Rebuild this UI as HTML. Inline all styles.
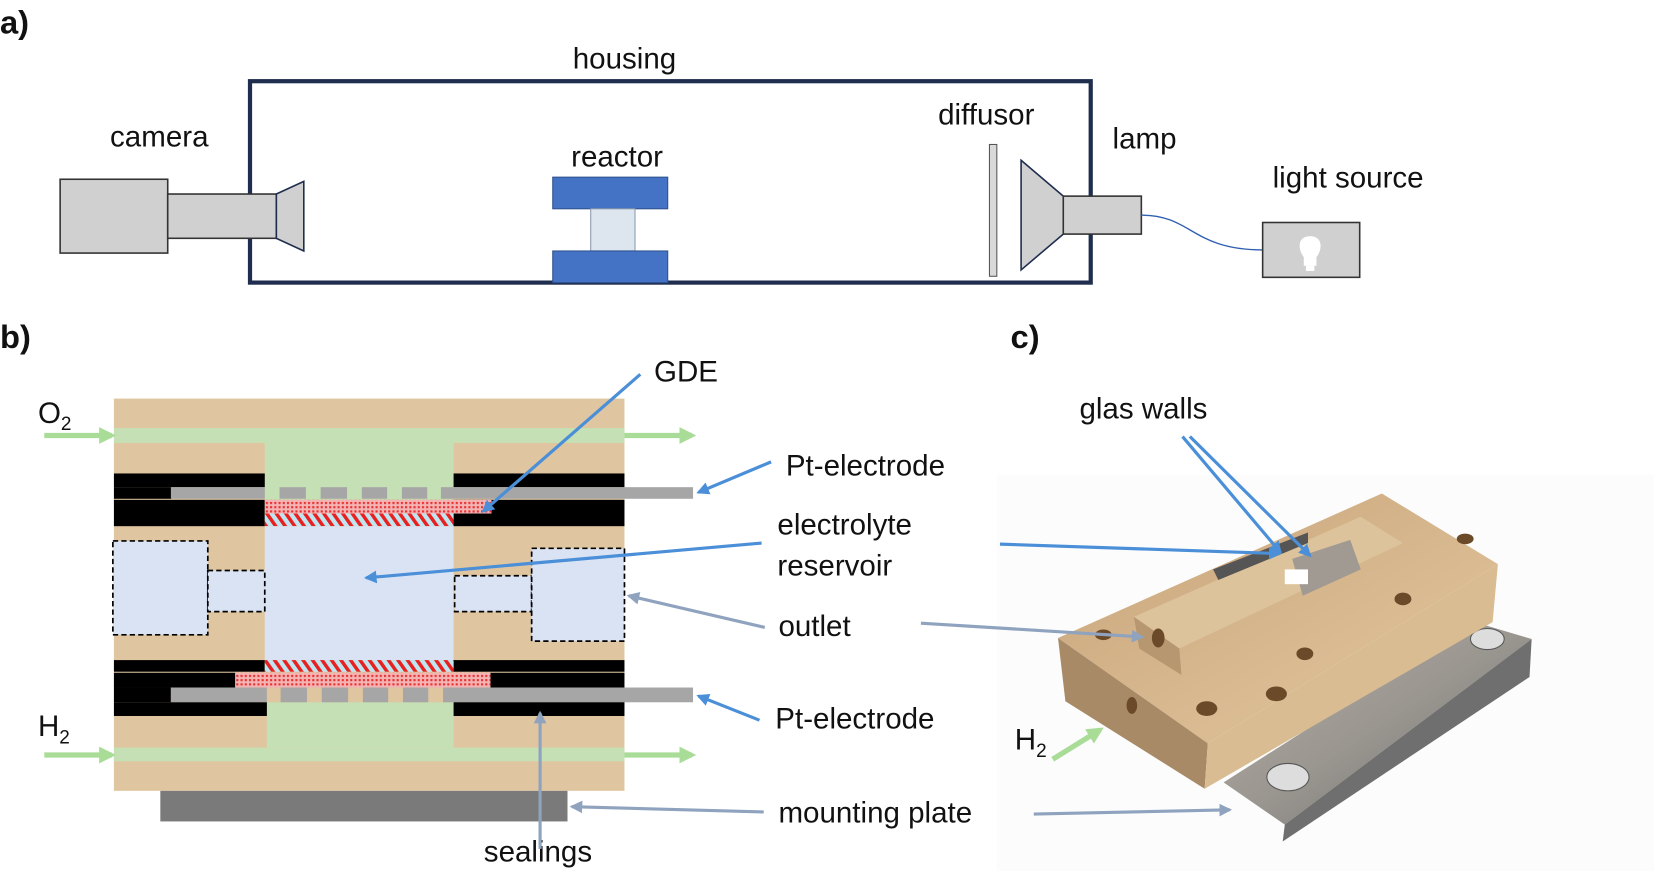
<!DOCTYPE html>
<html><head><meta charset="utf-8"><style>
html,body{margin:0;padding:0;background:#fff}
svg{display:block}
text{font-family:"Liberation Sans",sans-serif;fill:#111;font-size:28px}
.b{font-weight:bold;font-size:31px}
</style></head><body>
<svg width="1654" height="871" viewBox="0 0 1568 826" preserveAspectRatio="none" xmlns="http://www.w3.org/2000/svg">
<defs>
<marker id="ag" markerWidth="14" markerHeight="14" refX="10" refY="6" orient="auto" markerUnits="userSpaceOnUse"><path d="M0,0 L12,6 L0,12 Z" fill="#8fa3bf"/></marker>
<marker id="ag2" markerWidth="16" markerHeight="16" refX="12" refY="8" orient="auto" markerUnits="userSpaceOnUse"><path d="M0,0 L16,8 L0,16 Z" fill="#a9dd97"/></marker>
<marker id="ab2" markerWidth="14" markerHeight="14" refX="10" refY="6" orient="auto" markerUnits="userSpaceOnUse"><path d="M0,0 L12,6 L0,12 Z" fill="#4a8fd8"/></marker>
<pattern id="dots" width="4" height="4" patternUnits="userSpaceOnUse"><rect width="4" height="4" fill="#f4b4b4"/><rect width="2" height="2" fill="#e83030"/></pattern>
<pattern id="hatch" width="9" height="12" patternUnits="userSpaceOnUse" patternTransform="skewX(35)"><rect width="9" height="12" fill="#bfe6f0"/><rect width="4" height="12" fill="#e82020"/></pattern>
<linearGradient id="plg" x1="0" y1="0" x2="1" y2="1"><stop offset="0" stop-color="#b8b0a6"/><stop offset="0.5" stop-color="#9a9690"/><stop offset="1" stop-color="#6d6d6d"/></linearGradient>
<linearGradient id="tg" x1="0" y1="0" x2="1" y2="1"><stop offset="0" stop-color="#c9a47a"/><stop offset="1" stop-color="#e3c8a0"/></linearGradient>
</defs>

<!-- Panel a -->
<text class="b" x="0" y="32">a)</text>
<text x="592" y="65" text-anchor="middle">housing</text>
<rect x="237" y="77" width="797" height="191" fill="none" stroke="#1f2d4e" stroke-width="4"/>
<rect x="57" y="170" width="102" height="70" fill="#d0d0d0" stroke="#333" stroke-width="1.5"/>
<rect x="159" y="184" width="103" height="42" fill="#d0d0d0" stroke="#333" stroke-width="1.5"/>
<path d="M262,184 L288,172 L288,238 L262,226 Z" fill="#d0d0d0" stroke="#1f2d4e" stroke-width="1.5"/>
<text x="151" y="139" text-anchor="middle">camera</text>
<rect x="524" y="168" width="109" height="30" fill="#4472c4" stroke="#2f528f"/>
<rect x="560" y="198" width="42" height="40" fill="#dde5ef" stroke="#8a9ab0"/>
<rect x="524" y="238" width="109" height="30" fill="#4472c4" stroke="#2f528f"/>
<text x="585" y="158" text-anchor="middle">reactor</text>
<rect x="938" y="137" width="7" height="125" fill="#d9d9d9" stroke="#555"/>
<path d="M968,152 L1008,186 L1008,222 L968,256 Z" fill="#d0d0d0" stroke="#1f2d4e" stroke-width="1.5"/>
<rect x="1008" y="186" width="74" height="36" fill="#d0d0d0" stroke="#333" stroke-width="1.5"/>
<text x="935" y="118" text-anchor="middle">diffusor</text>
<text x="1085" y="141" text-anchor="middle">lamp</text>
<text x="1278" y="178" text-anchor="middle">light source</text>
<path d="M1082,204 C1130,204 1130,237 1197,237" fill="none" stroke="#2f5fb0" stroke-width="1.3"/>
<rect x="1197" y="211" width="92" height="52" fill="#d0d0d0" stroke="#333" stroke-width="1.5"/>
<path d="M1236,244 C1230,236 1230,224 1242,224 C1254,224 1254,236 1248,244 L1248,252 L1236,252 Z" fill="#fff"/>
<rect x="1238" y="252" width="8" height="5" fill="#fff"/>

<!-- Panel b -->
<text class="b" x="0" y="330">b)</text>
<text class="b" x="958" y="330">c)</text>
<rect x="108" y="378" width="484" height="372" fill="#e0c6a0"/>
<rect x="108" y="406" width="484" height="14" fill="#c5e0b4"/>
<rect x="251" y="420" width="179" height="54" fill="#c5e0b4"/>
<rect x="108" y="709" width="484" height="13" fill="#c5e0b4"/>
<rect x="253" y="666" width="177" height="43" fill="#c5e0b4"/>
<rect x="108" y="449" width="143" height="13" fill="#000"/>
<rect x="430" y="449" width="162" height="13" fill="#000"/>
<rect x="108" y="462" width="55" height="11" fill="#000"/>
<rect x="162" y="462" width="89" height="11" fill="#a6a6a6"/>
<rect x="265" y="462" width="25" height="11" fill="#a6a6a6"/>
<rect x="304" y="462" width="25" height="11" fill="#a6a6a6"/>
<rect x="343" y="462" width="24" height="11" fill="#a6a6a6"/>
<rect x="381" y="462" width="24" height="11" fill="#a6a6a6"/>
<rect x="418" y="462" width="239" height="11" fill="#a6a6a6"/>
<rect x="108" y="474" width="143" height="25" fill="#000"/>
<rect x="430" y="474" width="162" height="25" fill="#000"/>
<rect x="251" y="474" width="215" height="13" fill="url(#dots)"/>
<rect x="251" y="487" width="179" height="12" fill="url(#hatch)"/>
<rect x="251" y="499" width="179" height="127" fill="#dae3f3"/>
<rect x="107" y="513" width="90" height="89" fill="#dae3f3" stroke="#000" stroke-width="1.6" stroke-dasharray="5,3"/>
<rect x="197" y="541" width="54" height="39" fill="#dae3f3" stroke="#000" stroke-width="1.6" stroke-dasharray="5,3"/>
<rect x="431" y="546" width="73" height="34" fill="#dae3f3" stroke="#000" stroke-width="1.6" stroke-dasharray="5,3"/>
<rect x="504" y="520" width="88" height="88" fill="#dae3f3" stroke="#000" stroke-width="1.6" stroke-dasharray="5,3"/>
<rect x="108" y="626" width="143" height="11" fill="#000"/>
<rect x="430" y="626" width="162" height="11" fill="#000"/>
<rect x="251" y="626" width="179" height="11" fill="url(#hatch)"/>
<rect x="108" y="638" width="115" height="14" fill="#000"/>
<rect x="465" y="638" width="127" height="14" fill="#000"/>
<rect x="223" y="638" width="242" height="14" fill="url(#dots)"/>
<rect x="108" y="652" width="54" height="14" fill="#000"/>
<rect x="162" y="652" width="91" height="14" fill="#a6a6a6"/>
<rect x="266" y="652" width="25" height="14" fill="#a6a6a6"/>
<rect x="305" y="652" width="25" height="14" fill="#a6a6a6"/>
<rect x="344" y="652" width="24" height="14" fill="#a6a6a6"/>
<rect x="382" y="652" width="24" height="14" fill="#a6a6a6"/>
<rect x="420" y="652" width="237" height="14" fill="#a6a6a6"/>
<rect x="108" y="666" width="145" height="13" fill="#000"/>
<rect x="430" y="666" width="162" height="13" fill="#000"/>
<rect x="152" y="750" width="386" height="29" fill="#7a7a7a"/>
<line x1="42" y1="413" x2="106" y2="413" stroke="#a9dd97" stroke-width="5" marker-end="url(#ag2)"/>
<line x1="592" y1="413" x2="656" y2="413" stroke="#a9dd97" stroke-width="5" marker-end="url(#ag2)"/>
<line x1="42" y1="716" x2="106" y2="716" stroke="#a9dd97" stroke-width="5" marker-end="url(#ag2)"/>
<line x1="592" y1="716" x2="656" y2="716" stroke="#a9dd97" stroke-width="5" marker-end="url(#ag2)"/>
<text x="36" y="401">O<tspan font-size="18" dy="7">2</tspan></text>
<text x="36" y="698">H<tspan font-size="18" dy="7">2</tspan></text>
<text x="620" y="362">GDE</text>
<text x="745" y="451">Pt-electrode</text>
<text x="737" y="507">electrolyte</text>
<text x="737" y="546">reservoir</text>
<text x="738" y="603">outlet</text>
<text x="735" y="691">Pt-electrode</text>
<text x="738" y="780">mounting plate</text>
<text x="510" y="817" text-anchor="middle">sealings</text>
<g stroke="#4a8fd8" stroke-width="3" fill="none">
<line x1="607" y1="355" x2="458" y2="485" marker-end="url(#ab2)"/>
<line x1="731" y1="438" x2="662" y2="467" marker-end="url(#ab2)"/>
<line x1="722" y1="515" x2="347" y2="548" marker-end="url(#ab2)"/>
<line x1="720" y1="683" x2="662" y2="660" marker-end="url(#ab2)"/>
</g>
<g stroke="#8fa3bf" stroke-width="3" fill="none">
<line x1="725" y1="595" x2="596" y2="565" marker-end="url(#ag)"/>
<line x1="724" y1="770" x2="542" y2="765" marker-end="url(#ag)"/>
<line x1="512" y1="805" x2="512" y2="676" marker-end="url(#ag)"/>
</g>

<!-- Panel c -->
<rect x="945" y="450" width="623" height="376" fill="#fcfcfc"/>
<path d="M1160,742 L1398,590 L1452,606 L1218,782 Z" fill="url(#plg)"/>
<path d="M1218,782 L1452,606 L1450,642 L1216,798 Z" fill="#6f6f6f"/>
<ellipse cx="1410" cy="606" rx="16" ry="10" fill="#ddd" stroke="#555"/>
<ellipse cx="1221" cy="737" rx="20" ry="13" fill="#ddd" stroke="#555"/>
<path d="M1003,605 L1310,468 L1420,535 L1145,705 Z" fill="url(#tg)"/>
<path d="M1003,605 L1145,705 L1142,748 L1010,665 Z" fill="#a88a66"/>
<path d="M1145,705 L1420,535 L1415,590 L1142,748 Z" fill="#d9bc92"/>
<path d="M1075,585 L1290,490 L1330,515 L1118,615 Z" fill="#ddc39b"/>
<path d="M1075,585 L1118,615 L1120,640 L1080,615 Z" fill="#b69770"/>
<path d="M1150,540 L1240,505 L1240,515 L1155,550 Z" fill="#555"/>
<path d="M1225,530 L1280,512 L1290,540 L1235,565 Z" fill="#a09a92"/>
<rect x="1218" y="540" width="22" height="14" fill="#fff"/>
<g fill="#6b4a2a">
<ellipse cx="1098" cy="605" rx="6" ry="9"/>
<ellipse cx="1046" cy="602" rx="8" ry="5"/>
<ellipse cx="1210" cy="658" rx="10" ry="7"/>
<ellipse cx="1144" cy="672" rx="10" ry="7"/>
<ellipse cx="1330" cy="568" rx="8" ry="6"/>
<ellipse cx="1389" cy="511" rx="8" ry="5"/>
<ellipse cx="1237" cy="620" rx="8" ry="6"/>
<ellipse cx="1073" cy="669" rx="5" ry="8"/>
</g>
<text x="1084" y="397" text-anchor="middle">glas walls</text>
<text x="962" y="711">H<tspan font-size="18" dy="7">2</tspan></text>
<g stroke="#4a8fd8" stroke-width="3" fill="none">
<line x1="948" y1="516" x2="1213" y2="525" marker-end="url(#ab2)"/>
<line x1="1121" y1="414" x2="1214" y2="524" marker-end="url(#ab2)"/>
<line x1="1128" y1="414" x2="1242" y2="527" marker-end="url(#ab2)"/>
</g>
<g stroke="#8fa3bf" stroke-width="3" fill="none">
<line x1="873" y1="591" x2="1083" y2="604" marker-end="url(#ag)"/>
<line x1="980" y1="772" x2="1166" y2="768" marker-end="url(#ag)"/>
</g>
<line x1="998" y1="720" x2="1043" y2="692" stroke="#a9dd97" stroke-width="5" marker-end="url(#ag2)"/>
</svg>
</body></html>
